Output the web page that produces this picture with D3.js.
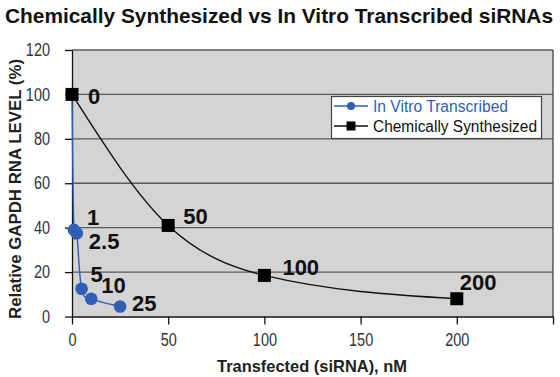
<!DOCTYPE html>
<html><head><meta charset="utf-8">
<script src="https://cdn.jsdelivr.net/npm/d3@7"></script>
<style>body{margin:0;background:#fff}svg{display:block}</style>
</head><body>
<svg id="c" width="560" height="377"></svg>
<script>
const title = "Chemically Synthesized vs In Vitro Transcribed siRNAs";
const xLabel = "Transfected (siRNA), nM";
const yLabel = "Relative GAPDH RNA LEVEL (%)";
const xTicks = [0, 50, 100, 150, 200, 250];
const xTickLabels = ["0", "50", "100", "150", "200", ""];
const yTicks = [0, 20, 40, 60, 80, 100, 120];
const vitroX = [0, 1, 2.5, 5, 10, 25];
const vitroY = [100, 39, 37.5, 12.5, 8, 4.5];
const vitroLabels = ["", "1", "2.5", "5", "10", "25"];
const chemX = [0, 50, 100, 200];
const chemY = [100, 41, 18.5, 8];
const chemLabels = ["0", "50", "100", "200"];
const seriesNames = ["In Vitro Transcribed", "Chemically Synthesized"];

const FF = "Liberation Sans, Arial, sans-serif";
const svg = d3.select("#c");
const L = 72, R = 553, T = 50, B = 316.5;
const x = d3.scaleLinear().domain([0, 250]).range([L, R]);
const y = d3.scaleLinear().domain([0, 120]).range([B, T]);

svg.append("text").attr("x", 5).attr("y", 23).attr("font-family", FF)
  .attr("font-weight", "bold").attr("font-size", 21).attr("fill", "#111")
  .attr("textLength", 548).attr("lengthAdjust", "spacingAndGlyphs").text(title);

svg.append("rect").attr("x", L).attr("y", T).attr("width", R - L).attr("height", B - T).attr("fill", "#d4d4d4");

svg.append("g").selectAll("line").data(yTicks.filter(d => d > 0)).join("line")
  .attr("x1", L).attr("x2", R).attr("y1", d => y(d)).attr("y2", d => y(d))
  .attr("stroke", "#5a5a5a").attr("stroke-width", 1.3);

svg.append("line").attr("x1", R).attr("x2", R).attr("y1", T).attr("y2", B).attr("stroke", "#444").attr("stroke-width", 1.3);

const tickLen = s => String(s).length * 0.556 * 14.5;
const xAxis = d3.axisBottom(x).tickValues(xTicks).tickFormat((d, i) => xTickLabels[i]).tickSize(8).tickSizeOuter(0);
const gx = svg.append("g").attr("transform", `translate(0,${B})`).call(xAxis);
gx.select(".domain").attr("stroke", "#111").attr("stroke-width", 1.3);
gx.selectAll(".tick line").attr("stroke", "#111").attr("stroke-width", 1.3);
gx.selectAll("text").attr("font-family", FF).attr("font-size", 17.5).attr("fill", "#333").attr("dy", null).attr("y", 29.5)
  .each(function() { const t = this.textContent; if (t) d3.select(this).attr("textLength", tickLen(t)).attr("lengthAdjust", "spacingAndGlyphs"); });

const yAxis = d3.axisLeft(y).tickValues(yTicks).tickSize(7).tickSizeOuter(0).tickPadding(15);
const gy = svg.append("g").attr("transform", `translate(${L},0)`).call(yAxis);
gy.select(".domain").attr("stroke", "#111").attr("stroke-width", 1.3);
gy.selectAll(".tick line").attr("stroke", "#111").attr("stroke-width", 1.3);
gy.selectAll("text").attr("font-family", FF).attr("font-size", 17.5).attr("fill", "#333")
  .each(function() { d3.select(this).attr("textLength", tickLen(this.textContent)).attr("lengthAdjust", "spacingAndGlyphs"); });

svg.append("text").attr("x", 312).attr("y", 372).attr("text-anchor", "middle")
  .attr("font-family", FF).attr("font-weight", "bold").attr("font-size", 16.5).attr("fill", "#222")
  .attr("textLength", 190).attr("lengthAdjust", "spacingAndGlyphs").text(xLabel);
svg.append("text").attr("transform", "translate(21,189) rotate(-90)").attr("text-anchor", "middle")
  .attr("font-family", FF).attr("font-weight", "bold").attr("font-size", 16.5).attr("fill", "#222")
  .attr("textLength", 260).attr("lengthAdjust", "spacingAndGlyphs").text(yLabel);

const blueLine = d3.line().curve(d3.curveCardinal.tension(0)).x(d => x(d[0])).y(d => y(d[1]));
const chemLine = d3.line().curve(d3.curveMonotoneX).x(d => x(d[0])).y(d => y(d[1]));
const vitro = vitroX.map((v, i) => [v, vitroY[i]]);
const chem = chemX.map((v, i) => [v, chemY[i]]);
const blue = "#2e5fb4";

svg.append("path").attr("d", blueLine(vitro)).attr("fill", "none").attr("stroke", blue).attr("stroke-width", 1.4);
svg.append("g").selectAll("circle").data(vitro.slice(1)).join("circle")
  .attr("cx", d => x(d[0])).attr("cy", d => y(d[1])).attr("r", 6.3).attr("fill", blue);

svg.append("path").attr("d", chemLine(chem)).attr("fill", "none").attr("stroke", "#111").attr("stroke-width", 1.4);
const sq = 13;
svg.append("g").selectAll("rect").data(chem).join("rect")
  .attr("x", d => x(d[0]) - sq / 2).attr("y", d => y(d[1]) - sq / 2).attr("width", sq).attr("height", sq).attr("fill", "#000");

const lblFont = g => g.attr("font-family", FF).attr("font-weight", "bold").attr("font-size", 22).attr("fill", "#111");
const chemOff = [[16, 10], [15, -1], [18, 0], [3, -9]];
svg.append("g").call(lblFont).selectAll("text").data(chem).join("text")
  .attr("x", (d, i) => x(d[0]) + chemOff[i][0]).attr("y", (d, i) => y(d[1]) + chemOff[i][1])
  .text((d, i) => chemLabels[i]);
const vitOff = [[0, 0], [13, -5], [12, 16], [9, -7], [10, -6], [12, 4]];
svg.append("g").call(lblFont).selectAll("text").data(vitro).join("text")
  .attr("x", (d, i) => x(d[0]) + vitOff[i][0]).attr("y", (d, i) => y(d[1]) + vitOff[i][1])
  .text((d, i) => vitroLabels[i]);

const lg = svg.append("g");
lg.append("rect").attr("x", 331.5).attr("y", 96.5).attr("width", 210).attr("height", 42).attr("fill", "#fff").attr("stroke", "#444").attr("stroke-width", 1.2);
const rows = [{y: 106, c: blue, m: "circle"}, {y: 126, c: "#000", m: "square"}];
const legW = [135, 164];
rows.forEach((r, i) => {
  lg.append("line").attr("x1", 334).attr("x2", 368).attr("y1", r.y).attr("y2", r.y).attr("stroke", i ? "#111" : blue).attr("stroke-width", 1.4);
  if (r.m === "circle") lg.append("circle").attr("cx", 351).attr("cy", r.y).attr("r", 4).attr("fill", blue);
  else lg.append("rect").attr("x", 346.5).attr("y", r.y - 4.5).attr("width", 9).attr("height", 9).attr("fill", "#000");
  lg.append("text").attr("x", 373).attr("y", r.y + 5.5).attr("font-family", FF)
    .attr("font-size", 16).attr("fill", i ? "#111" : blue)
    .attr("textLength", legW[i]).attr("lengthAdjust", "spacingAndGlyphs").text(seriesNames[i]);
});
</script>
</body></html>
